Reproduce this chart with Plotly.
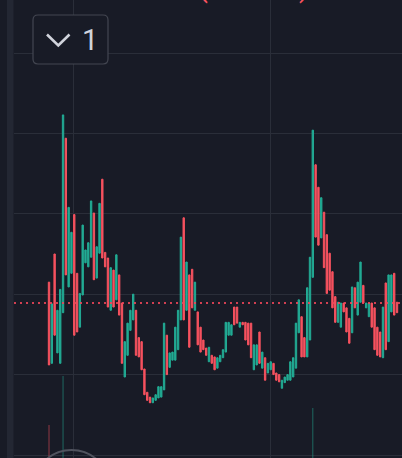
import plotly.graph_objects as go

GREEN = "#22ab94"
RED = "#f7525f"
BG = "#181b26"
GRID = "#2a2e39"
TEXT = "#d1d4dc"

# candle open / close, one entry per bar (price units)
opens = [
    21.5, 11.4, 25.0, 12.7, 11.4, 17.7, 39.4, 20.9, 22.6, 29.9,
    22.6, 15.9, 19.9, 23.9, 23.4, 24.6, 30.1, 22.0, 25.1, 34.3,
    25.2, 24.5, 18.0, 23.0, 19.3, 22.4, 18.9, 9.7, 12.4, 15.5,
    16.8, 18.0, 14.6, 14.1, 10.7, 7.8, 7.2, 6.5, 6.8, 7.1,
    7.2, 8.1, 14.9, 10.9, 11.8, 11.8, 13.1, 16.8, 29.5, 18.0,
    22.4, 23.1, 18.0, 17.8, 15.9, 14.3, 13.3, 11.6, 12.4, 12.2,
    10.8, 11.6, 12.1, 12.8, 14.9, 14.9, 18.4, 18.4, 15.9, 16.5,
    16.5, 16.4, 16.4, 10.6, 11.2, 15.3, 10.8, 12.1, 10.2, 10.6,
    11.4, 10.2, 10.0, 8.3, 9.0, 9.3, 9.3, 9.7, 10.8, 15.2,
    17.2, 14.6, 12.2, 14.3, 22.1, 36.1, 33.3, 27.0, 30.2, 27.4,
    25.1, 22.8, 19.7, 16.5, 15.9, 18.9, 18.3, 17.0, 15.2, 20.8,
    17.4, 19.0, 21.1, 18.3, 17.2, 18.9, 18.3, 15.9, 15.3, 12.1,
    21.4, 14.1, 17.8, 22.6, 19.0,
]
closes = [
    11.2, 18.8, 14.9, 18.0, 20.6, 42.3, 22.4, 30.8, 27.7, 14.9,
    15.3, 20.1, 28.6, 25.5, 26.4, 31.6, 21.8, 25.9, 31.3, 24.5,
    23.4, 18.4, 23.3, 18.4, 24.9, 17.4, 11.4, 14.1, 16.4, 18.0,
    20.0, 12.4, 12.2, 10.6, 7.5, 6.8, 6.5, 7.1, 7.5, 8.5,
    8.5, 16.4, 10.0, 12.7, 12.8, 15.9, 18.0, 27.1, 16.8, 24.0,
    13.4, 18.3, 21.5, 13.7, 12.8, 13.1, 12.4, 13.4, 11.4, 10.6,
    12.1, 12.4, 13.1, 16.5, 16.5, 16.2, 16.2, 16.4, 16.5, 16.2,
    14.3, 13.7, 12.1, 13.7, 13.7, 11.4, 12.8, 9.3, 11.4, 11.6,
    10.0, 9.3, 9.1, 9.3, 9.7, 10.0, 11.6, 12.1, 16.4, 19.3,
    12.2, 12.2, 20.8, 24.6, 40.4, 27.1, 26.1, 32.0, 23.3, 20.1,
    20.5, 18.3, 16.5, 19.0, 18.9, 17.8, 15.3, 13.9, 20.9, 18.3,
    21.5, 24.0, 18.9, 18.9, 18.9, 15.9, 13.1, 12.4, 12.2, 18.4,
    13.1, 22.4, 22.4, 17.4, 17.7,
]
highs = [max(o, c) for o, c in zip(opens, closes)]
lows = [min(o, c) for o, c in zip(opens, closes)]
bars = list(range(len(opens)))

# the only volume bars that reach into view
vol_bars = [0, 5, 94]
vol_values = [3.3, 8.2, 5.0]
vol_colors = ["rgba(247,82,95,0.55)", "rgba(34,171,148,0.55)", "rgba(34,171,148,0.55)"]

last_price = 18.9
time_grid = [8.55, 78.8]

W, H = 402, 458
L = 14


def px(x):
    return (x - L) / (W - L)


def py(y):
    return 1 - y / H


fig = go.Figure()

fig.add_trace(
    go.Bar(
        x=vol_bars,
        y=vol_values,
        marker=dict(color=vol_colors, line_width=0),
        width=0.35,
        yaxis="y2",
        hoverinfo="skip",
    )
)

fig.add_trace(
    go.Candlestick(
        x=bars,
        open=opens,
        high=highs,
        low=lows,
        close=closes,
        increasing=dict(line=dict(color=GREEN, width=1), fillcolor=GREEN),
        decreasing=dict(line=dict(color=RED, width=1), fillcolor=RED),
        whiskerwidth=0,
        hoverinfo="skip",
    )
)

fig.add_hline(
    y=last_price,
    line=dict(color="rgba(242,70,90,0.85)", width=2, dash="2px,4px"),
)


def rounded_box(x0, y0, x1, y1, r):
    pts = [
        f"M {px(x0 + r)},{py(y0)}",
        f"L {px(x1 - r)},{py(y0)}",
        f"Q {px(x1)},{py(y0)} {px(x1)},{py(y0 + r)}",
        f"L {px(x1)},{py(y1 - r)}",
        f"Q {px(x1)},{py(y1)} {px(x1 - r)},{py(y1)}",
        f"L {px(x0 + r)},{py(y1)}",
        f"Q {px(x0)},{py(y1)} {px(x0)},{py(y1 - r)}",
        f"L {px(x0)},{py(y0 + r)}",
        f"Q {px(x0)},{py(y0)} {px(x0 + r)},{py(y0)}",
        "Z",
    ]
    return " ".join(pts)


shapes = [
    # left toolbar edge
    dict(type="rect", xref="paper", yref="paper", x0=px(0), x1=px(7),
         y0=0, y1=1, fillcolor=BG, line_width=0, layer="above"),
    dict(type="rect", xref="paper", yref="paper", x0=px(7), x1=px(13.5),
         y0=0, y1=1, fillcolor="#232733", line_width=0, layer="above"),
    # collapsed legend button
    dict(type="path", xref="paper", yref="paper",
         path=rounded_box(33, 15, 108, 64, 5),
         fillcolor=BG, line=dict(color="#434651", width=1.2), layer="above"),
    dict(type="path", xref="paper", yref="paper",
         path=f"M {px(47)},{py(34.5)} L {px(58.3)},{py(45.5)} L {px(69.5)},{py(34.5)}",
         line=dict(color=TEXT, width=2.6), layer="above"),
    # round button peeking in at the bottom
    dict(type="circle", xref="paper", yref="paper",
         x0=px(33), x1=px(110), y0=py(527), y1=py(450),
         line=dict(color="#50535e", width=2), fillcolor="rgba(0,0,0,0)", layer="above"),
]

fig.update_layout(
    width=W,
    height=H,
    margin=dict(l=L, r=0, t=0, b=0),
    paper_bgcolor=BG,
    plot_bgcolor=BG,
    showlegend=False,
    shapes=shapes,
    xaxis=dict(
        range=[-(49 - L) / 2.806, 124 + 5 / 2.806],
        rangeslider=dict(visible=False),
        showticklabels=False,
        tickvals=time_grid,
        showgrid=True,
        gridcolor=GRID,
        gridwidth=1,
        zeroline=False,
        showline=False,
        ticks="",
    ),
    yaxis=dict(
        range=[-3 / 8.04, 455 / 8.04],
        dtick=10,
        tick0=0,
        showticklabels=False,
        showgrid=True,
        gridcolor=GRID,
        gridwidth=1,
        zeroline=False,
        showline=False,
        ticks="",
    ),
    yaxis2=dict(range=[0, 45.8], overlaying="y", visible=False),
    annotations=[
        dict(text="1", xref="paper", yref="paper", x=px(89.5), y=py(39.5),
             xanchor="center", yanchor="middle", showarrow=False,
             font=dict(family="Roboto", size=29, color=TEXT)),
        dict(text="−0.0004671 (−6.80%)", xref="paper", yref="paper",
             x=px(40), y=py(6), xanchor="left", yanchor="bottom", showarrow=False,
             font=dict(family="Roboto", size=28, color=RED)),
    ],
)

fig.write_html(
    "out.html",
    config={"displayModeBar": False},
    post_script="document.body.style.margin='0';document.body.style.background='#181b26';",
)
